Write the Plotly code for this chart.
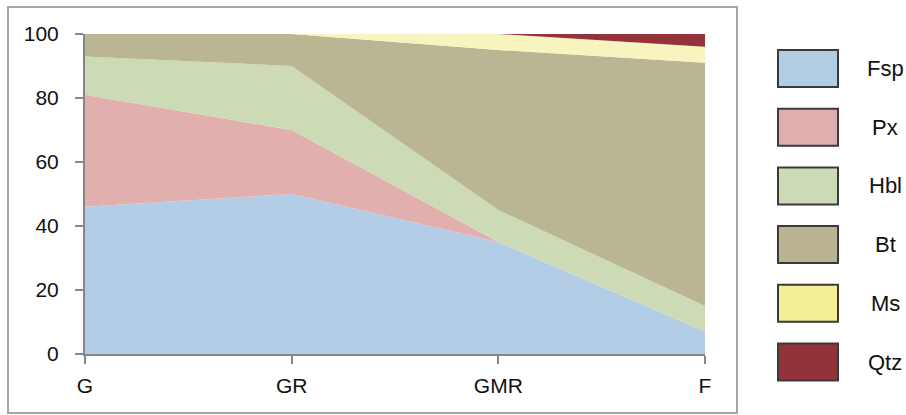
import plotly.graph_objects as go

categories = ["G", "GR", "GMR", "F"]
minerals = ["Fsp", "Px", "Hbl", "Bt", "Ms", "Qtz"]
fsp = [46, 50, 35, 7]
px = [35, 20, 0, 0]
hbl = [12, 20, 10, 8]
bt = [7, 10, 50, 76]
ms = [0, 0, 5, 5]
qtz = [0, 0, 0, 4]
y_ticks = [0, 20, 40, 60, 80, 100]

series = [fsp, px, hbl, bt, ms, qtz]
area_colors = ["#b4cde6", "#e2afaf", "#ccdbb6", "#bab693", "#f7f4bf", "#943339"]
legend_colors = ["#b3cde4", "#e0aeae", "#ccdab5", "#b9b391", "#f3ef96", "#933239"]

fig = go.Figure()
for name, vals, col in zip(minerals, series, area_colors):
    fig.add_trace(go.Scatter(
        x=categories, y=vals, name=name, stackgroup="one", mode="lines",
        line=dict(width=0, color=col), fillcolor=col, showlegend=False,
    ))

font_family = "Liberation Sans, Arial, sans-serif"

# Plot area in pixels: x 85-705, y 34-354
L, R, T, B = 85, 705, 34, 354
W, H = 906, 415
pw, ph = R - L, B - T

def px2x(p):
    return (p - L) / pw

def px2y(p):
    return (B - p) / ph

shapes = [
    dict(type="rect", xref="paper", yref="paper",
         x0=px2x(8), x1=px2x(737), y0=px2y(413), y1=px2y(7),
         line=dict(color="#a6a6a6", width=2), fillcolor="rgba(0,0,0,0)", layer="below"),
]
annotations = []
box_h = 37
for i, (name, col) in enumerate(zip(minerals, legend_colors)):
    cy = 68.5 + i * 58.7
    shapes.append(dict(type="rect", xref="paper", yref="paper",
                       x0=px2x(778), x1=px2x(838),
                       y0=px2y(cy + box_h / 2), y1=px2y(cy - box_h / 2),
                       line=dict(color="#3a3a3a", width=2), fillcolor=col))
    annotations.append(dict(xref="paper", yref="paper", x=px2x(885), y=px2y(cy),
                            text=name, showarrow=False, xanchor="center", yanchor="middle",
                            font=dict(family=font_family, size=22, color="#111111")))

fig.update_layout(
    width=W, height=H,
    margin=dict(l=L, r=W - R, t=T, b=H - B),
    paper_bgcolor="white", plot_bgcolor="white",
    showlegend=False,
    shapes=shapes, annotations=annotations,
    font=dict(family=font_family, size=21, color="#111111"),
    xaxis=dict(type="category", range=[0, 3], showgrid=False, zeroline=False,
               showline=True, linecolor="#868686", linewidth=2,
               ticks="outside", ticklen=8, tickwidth=2, tickcolor="#868686",
               ticklabelstandoff=4, tickfont=dict(size=21)),
    yaxis=dict(range=[0, 100], tickvals=y_ticks, showgrid=False, zeroline=False,
               showline=True, linecolor="#868686", linewidth=2,
               ticks="outside", ticklen=8, tickwidth=2, tickcolor="#868686",
               ticklabelstandoff=12, tickfont=dict(size=21)),
)

fig.write_html("out.html", config={"displayModeBar": False},
               post_script="document.body.style.margin='0';")
